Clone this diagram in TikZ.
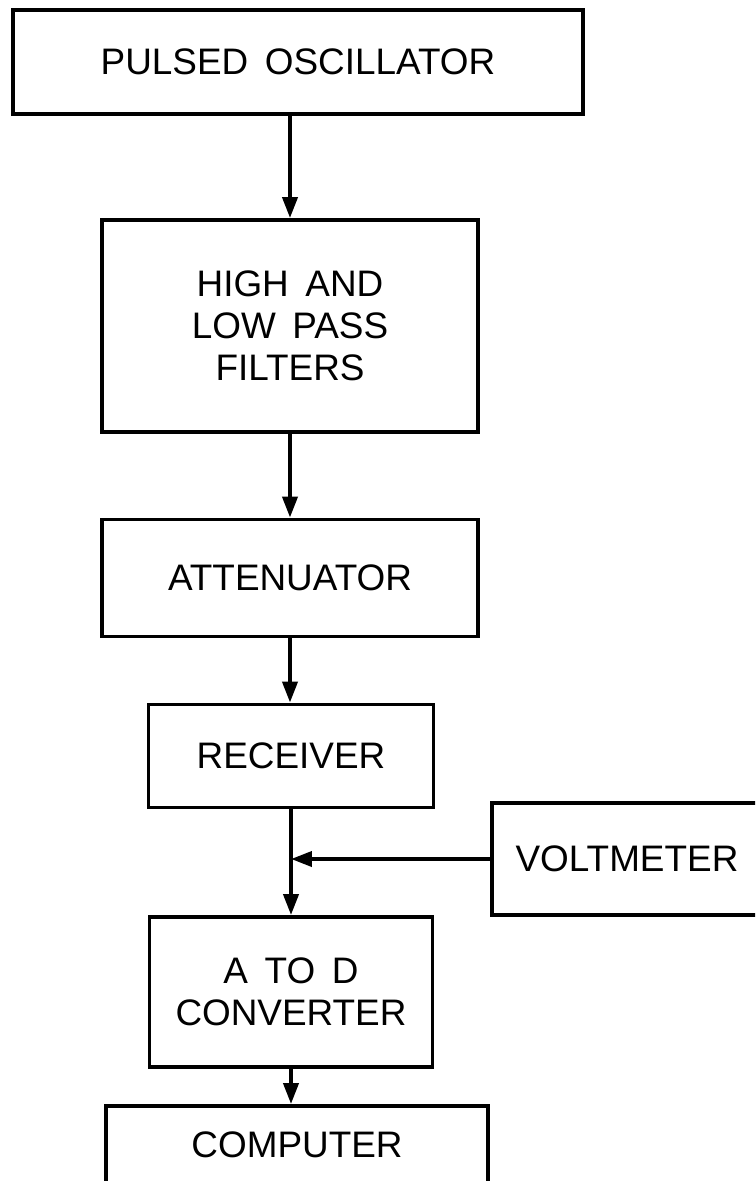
\documentclass[tikz,border=0pt]{standalone}
\usepackage{fontspec}
\setmainfont{Liberation Sans}
\usetikzlibrary{arrows.meta}
\newcommand\blockfont{\fontsize{21}{24}\selectfont\spaceskip=0.45em\relax}
\begin{document}
\begin{tikzpicture}[
  x=0.02cm, y=-0.02cm,
  block/.style={draw, line width=2.2pt, align=center, inner sep=0pt, font=\blockfont},
  flow/.style={-{Triangle[length=0.42cm, width=0.3cm]}, line width=2.2pt}
]
  \clip (0,0) rectangle (755,1181);
  \node[block, minimum width=11.4cm, minimum height=2.08cm] (osc) at (298,62) {PULSED OSCILLATOR};
  \node[block, minimum width=7.52cm, minimum height=4.24cm] (filt) at (290,326) {HIGH AND\\LOW PASS\\FILTERS};
  \node[block, minimum width=7.52cm, minimum height=2.34cm] (att) at (290,578) {ATTENUATOR};
  \node[block, minimum width=5.7cm, minimum height=2.06cm] (rec) at (291,756) {RECEIVER};
  \node[block, minimum width=5.4cm, minimum height=2.24cm] (volt) at (627,859) {VOLTMETER};
  \node[block, minimum width=5.66cm, minimum height=3.0cm] (atod) at (291,992) {A TO D\\CONVERTER};
  \node[block, minimum width=7.64cm, minimum height=1.56cm] (comp) at (297,1145) {COMPUTER};
  % signal path
  \draw[flow] (filt.north |- osc.south) -- (filt.north);
  \draw[flow] (filt) -- (att);
  \draw[flow] (att.south) -- (att.south |- rec.north);
  \draw[flow] (rec) -- (atod);
  \coordinate (tap) at (rec.south |- volt.west);
  \draw[flow] (volt) -- (tap);
  \draw[flow] (atod) -- (atod.south |- comp.north);
\end{tikzpicture}
\end{document}
